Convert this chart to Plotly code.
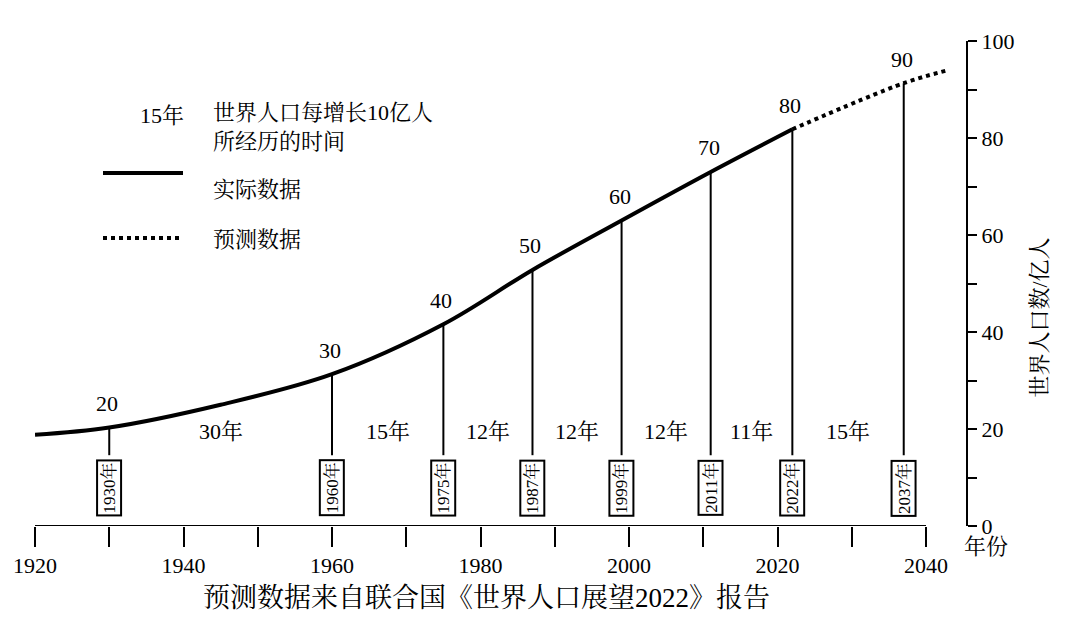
import plotly.graph_objects as go

# milestone years and population (hundred millions)
milestone_years = [1930, 1960, 1975, 1987, 1999, 2011, 2022, 2037]
milestone_values = [20, 30, 40, 50, 60, 70, 80, 90]
curve_at_milestone = [20.3, 31.3, 41.6, 52.8, 63.0, 73.0, 81.8, 91.3]
interval_labels = ["30年", "15年", "12年", "12年", "12年", "11年", "15年"]

actual_years = [1920, 1930, 1945, 1960, 1975, 1987, 1999, 2011, 2022]
actual_values = [18.8, 20.3, 25.0, 31.3, 41.6, 52.8, 63.0, 73.0, 81.8]
forecast_years = [2022, 2037, 2043]
forecast_values = [81.8, 91.3, 94.0]

x_ticks = list(range(1920, 2041, 10))
x_ticktext = [str(y) if y % 20 == 0 else "" for y in x_ticks]

FONT = "Liberation Serif, Noto Serif CJK SC, Noto Sans CJK SC"

fig = go.Figure()
fig.add_trace(go.Scatter(x=actual_years, y=actual_values, mode="lines",
                         line=dict(color="black", width=4, shape="spline"),
                         cliponaxis=False))
fig.add_trace(go.Scatter(x=forecast_years, y=forecast_values, mode="lines",
                         line=dict(color="black", width=4, dash="dot", shape="spline"),
                         cliponaxis=False))

for yr, val, top in zip(milestone_years, milestone_values, curve_at_milestone):
    fig.add_shape(type="line", x0=yr, x1=yr, y0=14.6, y1=top,
                  line=dict(color="black", width=2))
    fig.add_annotation(x=yr, y=7.8, text=f"{yr}年", textangle=-90, showarrow=False,
                       font=dict(size=17, family=FONT, color="black"),
                       bordercolor="black", borderwidth=2, borderpad=1, bgcolor="white")
    fig.add_annotation(x=yr, y=top, text=str(val), showarrow=False, yshift=24,
                       xshift=-2, font=dict(size=22, family=FONT, color="black"))

for i, lab in enumerate(interval_labels):
    mid = (milestone_years[i] + milestone_years[i + 1]) / 2
    fig.add_annotation(x=mid, y=19.5, text=lab, showarrow=False,
                       font=dict(size=22, family=FONT, color="black"))

# x axis line (stops at 2040)
fig.add_shape(type="line", x0=1920, x1=2040, y0=0, y1=0, line=dict(color="black", width=2))

# legend-like block
fig.add_annotation(xref="paper", yref="paper", x=(130 - 27) / 931, y=(518 - 93) / 485,
                   text="15年", showarrow=False, font=dict(size=22, family=FONT, color="black"))
fig.add_annotation(xref="paper", yref="paper", x=(203 - 27) / 931, y=(518 - 90) / 485,
                   xanchor="left", align="left", showarrow=False,
                   text="世界人口每增长10亿人<br>所经历的时间",
                   font=dict(size=22, family=FONT, color="black"))
fig.add_shape(type="line", xref="paper", yref="paper", x0=(95 - 27) / 931, x1=(175 - 27) / 931,
              y0=(518 - 165) / 485, y1=(518 - 165) / 485, line=dict(color="black", width=4))
fig.add_shape(type="line", xref="paper", yref="paper", x0=(95 - 27) / 931, x1=(175 - 27) / 931,
              y0=(518 - 230) / 485, y1=(518 - 230) / 485,
              line=dict(color="black", width=4, dash="dot"))
fig.add_annotation(xref="paper", yref="paper", x=(203 - 27) / 931, y=(518 - 167) / 485,
                   xanchor="left", text="实际数据", showarrow=False,
                   font=dict(size=22, family=FONT, color="black"))
fig.add_annotation(xref="paper", yref="paper", x=(203 - 27) / 931, y=(518 - 231) / 485,
                   xanchor="left", text="预测数据", showarrow=False,
                   font=dict(size=22, family=FONT, color="black"))

fig.add_annotation(xref="paper", yref="paper", x=(1045 - 27) / 931, y=(518 - 310) / 485,
                   text="世界人口数/亿人", textangle=-90, showarrow=False,
                   font=dict(size=22, family=FONT, color="black"))
fig.add_annotation(xref="paper", yref="paper", x=(1002 - 27) / 931, y=(518 - 553) / 485,
                   text="年份", showarrow=False, font=dict(size=22, family=FONT, color="black"))
fig.add_annotation(xref="paper", yref="paper", x=(478 - 27) / 931, y=(518 - 607) / 485,
                   text="预测数据来自联合国《世界人口展望2022》报告", showarrow=False,
                   font=dict(size=27, family=FONT, color="black"))

fig.update_layout(
    width=1080, height=632, showlegend=False,
    paper_bgcolor="white", plot_bgcolor="white",
    margin=dict(l=27, r=122, t=33, b=114, autoexpand=False),
    font=dict(family=FONT, size=22, color="black"),
    xaxis=dict(range=[1920, 1920 + 931 / 7.425], showgrid=False, zeroline=False,
               showline=False, tickvals=x_ticks, ticktext=x_ticktext, automargin=False,
               tickfont=dict(size=22), ticks="outside", ticklen=20, tickwidth=2,
               tickcolor="black"),
    yaxis=dict(range=[0, 100], side="right", showgrid=False, zeroline=False,
               showline=True, linecolor="black", linewidth=2, automargin=False,
               tickvals=list(range(0, 101, 10)), tickfont=dict(size=22),
               ticktext=[str(v) if v % 20 == 0 else "" for v in range(0, 101, 10)],
               ticks="outside", ticklen=9, tickwidth=2, tickcolor="black"),
)

fig.write_html("out.html")
